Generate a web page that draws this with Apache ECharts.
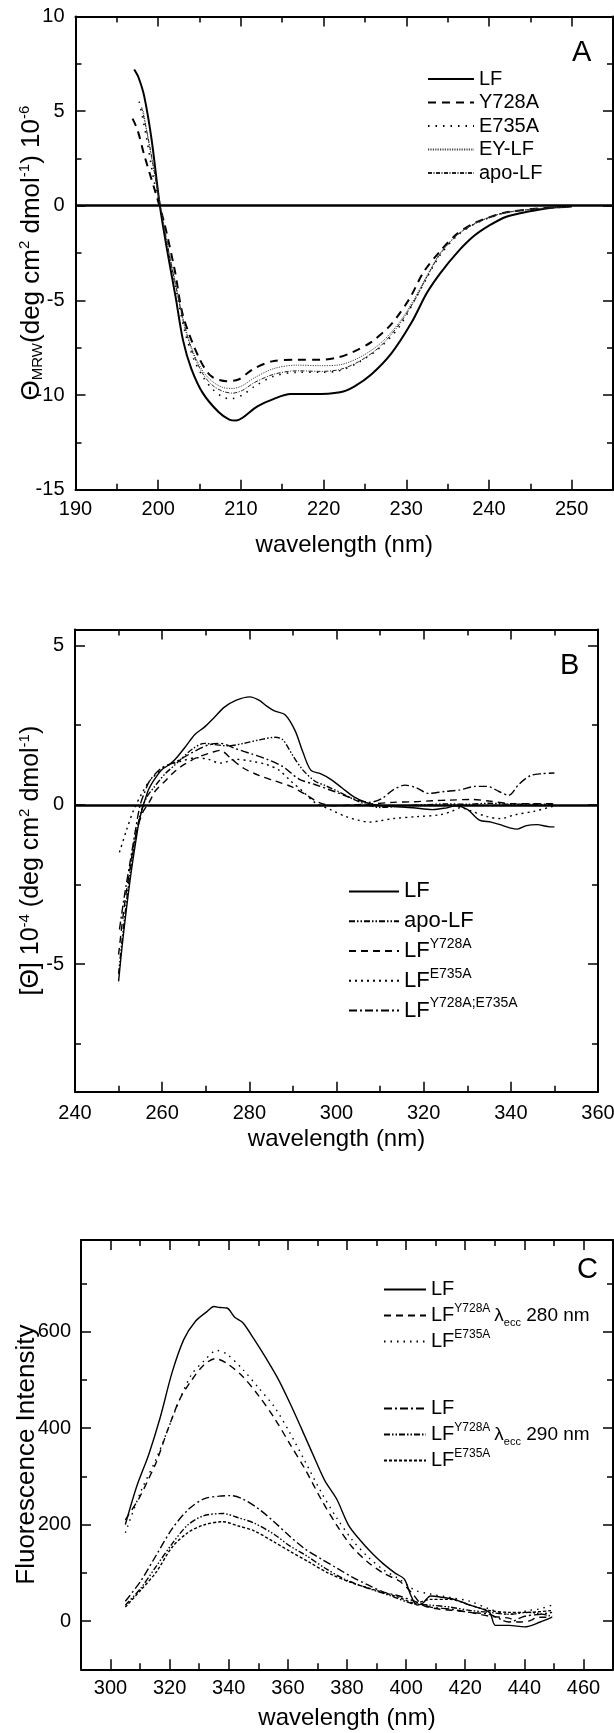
<!DOCTYPE html>
<html><head><meta charset="utf-8">
<script src="https://cdn.jsdelivr.net/npm/echarts@6/dist/echarts.min.js"></script>
<style>html,body{margin:0;padding:0;background:#fff}#c{width:614px;height:1733px}</style>
</head><body><div id="c"></div>
<script>
// ---------- Panel A : far-UV CD ----------
const A_xLabels = [190,200,210,220,230,240,250];
const A_xMinor  = [195,205,215,225,235,245];
const A_yLabels = [-15,-10,-5,0,5,10];
const A_yMinor  = [-12.5,-7.5,-2.5,2.5,7.5];
const A_LF = [[197.1,7.2],[197.6,6.8],[198.3,5.8],[199.2,3.5],[200.2,0],[201.1,-2.4],[202.1,-4.8],[203,-7.1],[204,-8.6],[205.4,-9.9],[207.3,-10.9],[208.6,-11.3],[209.4,-11.35],[210.2,-11.2],[212,-10.6],[214,-10.2],[216,-9.95],[218.7,-9.95],[222,-9.85],[223.7,-9.55],[225.8,-8.9],[228.2,-7.8],[230.6,-6.2],[232.5,-4.6],[234.1,-3.57],[236.1,-2.5],[238.1,-1.63],[240.1,-1.03],[242.1,-0.58],[244.6,-0.32],[247.8,-0.09],[250,-0.04]];
const A_Y728A = [[196.9,4.6],[197.5,4.0],[198.3,2.7],[199.7,0.66],[200.7,-0.85],[202,-3.4],[203,-5.8],[204.9,-8.0],[206.4,-9.0],[208.3,-9.27],[209.7,-9.18],[211.6,-8.6],[214,-8.2],[216.8,-8.14],[219.6,-8.14],[221.5,-8.04],[223.4,-7.76],[225.8,-7.19],[228.2,-6.25],[230.4,-4.9],[232.1,-3.5],[234.1,-2.4],[236.1,-1.5],[238.1,-0.95],[240.1,-0.6],[242.1,-0.35],[246.2,-0.14],[250,-0.05]];
const A_E735A = [[197.7,5.5],[198.5,3.8],[199.5,1.3],[200.2,0],[201.2,-2.3],[202.2,-4.5],[203.2,-6.6],[204.3,-8.1],[205.5,-9.1],[206.6,-9.7],[207.8,-10.1],[208.7,-10.2],[210.2,-10.0],[211.6,-9.56],[214,-9.0],[216.8,-8.8],[219.6,-8.8],[222,-8.7],[224.4,-8.23],[226.8,-7.5],[229.1,-6.43],[231,-5.0],[232.5,-3.8],[234.1,-2.6],[236.1,-1.6],[238.1,-1.0],[240.1,-0.62],[242.1,-0.36],[246.2,-0.15],[250,-0.05]];
const A_EY = [[198.2,5.0],[199,3.0],[200.2,0.2],[201.2,-2.2],[202.2,-4.3],[203.2,-6.3],[204.3,-7.8],[205.5,-8.8],[206.6,-9.3],[207.8,-9.6],[209,-9.65],[210.2,-9.5],[211.6,-9.1],[214,-8.6],[216.8,-8.42],[219.6,-8.45],[222,-8.4],[224.4,-8.0],[226.8,-7.3],[229.1,-6.2],[231,-4.9],[232.5,-3.7],[234.1,-2.5],[236.1,-1.55],[238.1,-0.98],[240.1,-0.6],[242.1,-0.35],[246.2,-0.14],[250,-0.05]];
const A_apo = [[198,5.2],[199,3.1],[200.2,0.1],[201.2,-2.3],[202.2,-4.4],[203.2,-6.4],[204.3,-7.9],[205.5,-8.95],[206.6,-9.5],[207.8,-9.8],[209,-9.9],[210.2,-9.75],[211.6,-9.35],[214,-8.9],[216.8,-8.72],[219.6,-8.75],[222,-8.65],[224.4,-8.2],[226.8,-7.45],[229.1,-6.3],[231,-5.0],[232.5,-3.75],[234.1,-2.55],[236.1,-1.58],[238.1,-1.0],[240.1,-0.61],[242.1,-0.36],[246.2,-0.15],[250,-0.05]];

// ---------- Panel B : near-UV CD ----------
const B_xLabels = [240,260,280,300,320,340,360];
const B_xMinor  = [250,270,290,310,330,350];
const B_yLabels = [-5,0,5];
const B_yMinor  = [-7.5,-2.5,2.5];
const B_LF = [[250,-5.54],[251,-4.2],[252.6,-2.4],[254,-1.1],[254.9,-0.4],[256.7,0.42],[258,0.75],[259.8,1.09],[261.5,1.25],[263,1.43],[265.2,1.8],[267.5,2.21],[269.7,2.44],[272,2.75],[274.2,3.06],[276.9,3.28],[280.1,3.39],[282.3,3.28],[284,3.1],[285.9,2.94],[288.2,2.83],[290.5,2.33],[292.3,1.65],[294.1,1.09],[296.3,0.98],[298.6,0.81],[301.3,0.53],[304,0.25],[306.7,0.08],[309.4,-0.01],[313,-0.05],[317.5,-0.09],[322,-0.15],[325,-0.1],[327.4,-0.03],[330.1,-0.15],[332.8,-0.48],[335.5,-0.54],[338.2,-0.65],[340,-0.73],[341.5,-0.76],[343.6,-0.65],[346,-0.62],[349,-0.69],[350,-0.69]];
const B_apo = [[250,-5.3],[251,-4.0],[252.6,-2.17],[254,-0.9],[255.3,-0.15],[256.5,0.25],[258,0.53],[260.7,0.98],[262.5,1.2],[264.3,1.43],[267,1.76],[269.7,1.93],[271.5,1.9],[275.1,1.85],[278.7,1.93],[282.3,2.04],[285.9,2.12],[287.7,2.04],[290,1.54],[292.3,1.09],[295,0.75],[297.5,0.6],[300.4,0.42],[303.5,0.2],[306.7,0.02],[310,-0.08],[315,-0.03],[320,0.0],[325,0.03],[330,0.02],[335,0.05],[340,0.02],[345,0.02],[350,0.02]];
const B_Y728A = [[250,-4.7],[251.2,-3.3],[252.6,-2.0],[254,-0.9],[255.5,-0.25],[257.1,0.1],[258.5,0.45],[260.7,0.75],[262.5,1.0],[264.3,1.2],[267.9,1.48],[271.5,1.65],[273.3,1.71],[276,1.43],[278.7,1.15],[282.3,0.92],[285.9,0.75],[289.5,0.58],[293.2,0.3],[295.9,0.08],[299.5,-0.03],[304,0.0],[308,0.03],[313,0.08],[318,0.1],[322,0.13],[326,0.15],[331,0.17],[335,0.12],[340,0.04],[345,0.04],[350,0.04]];
const B_E735A = [[250.2,-1.49],[251.8,-0.8],[253.5,-0.15],[255.3,0.35],[257.1,0.75],[258.9,1.0],[260.7,1.2],[264.3,1.37],[267.9,1.48],[270.6,1.43],[273.3,1.31],[276.9,1.43],[280.5,1.37],[284.1,1.26],[286.8,1.09],[289.5,0.75],[292.3,0.42],[295,0.08],[298.6,-0.15],[302.2,-0.37],[305,-0.48],[307.6,-0.54],[310,-0.5],[313,-0.43],[318.4,-0.37],[323.8,-0.31],[326.5,-0.2],[328.3,-0.09],[331,-0.2],[334.6,-0.37],[337.7,-0.43],[340.9,-0.31],[345.4,-0.2],[350,-0.03]];
const B_YE = [[250.2,-3.91],[251.4,-2.8],[252.6,-1.83],[253.8,-0.85],[254.9,-0.03],[256,0.4],[257.1,0.75],[259.8,1.15],[263.4,1.37],[267,1.65],[270.6,1.88],[273.3,1.93],[276.9,1.76],[280.5,1.6],[284.1,1.43],[287.7,1.2],[291.4,0.81],[295,0.64],[299.5,0.42],[304,0.19],[307.6,0.08],[310.3,0.19],[313,0.47],[315.7,0.62],[318.4,0.53],[321.1,0.36],[324.7,0.42],[328.3,0.47],[331.9,0.58],[334.6,0.58],[337.3,0.42],[339.5,0.3],[341.8,0.64],[344.5,0.92],[347.2,0.98],[350,1.0]];

// ---------- Panel C : fluorescence ----------
const C_xLabels = [300,320,340,360,380,400,420,440,460];
const C_xMinor  = [310,330,350,370,390,410,430,450];
const C_yLabels = [0,200,400,600];
const C_yMinor  = [100,300,500,700];
const C_LF280 = [[305,200],[308.9,280],[312.9,345],[316.8,422],[320.8,515],[324.8,584],[328.8,622],[332.7,642],[335,652],[337,650],[339.4,649],[342,630],[344.7,619],[348.6,584],[352.6,545],[356.6,503],[360.6,453],[364.6,399],[368.5,345],[372.5,291],[376.5,253],[380.5,199],[384.4,168],[388.4,141],[392.4,118],[396.4,99],[399.4,87],[401.7,52],[403.7,33],[405.6,37],[408.3,52],[412.3,49],[416.3,45],[421.6,33],[428.2,18],[430.2,-9],[434.8,-9],[440.1,-12],[445.4,-2],[449.4,8]];
const C_Y728A280 = [[305,210],[309.5,253],[312.5,290],[315.5,330],[319.5,399],[323.5,461],[327.4,499],[331.4,530],[335.4,544],[339.4,534],[344.7,507],[350,468],[355.3,422],[360.6,368],[365.9,314],[371.2,253],[376.5,199],[381.8,153],[387.1,122],[392.4,99],[397.7,83],[401.7,60],[405.6,33],[411,25],[416.3,22],[421.6,18],[428.2,10],[434.8,6],[438,-2],[441.4,0],[445,8],[449.4,8]];
const C_E735A280 = [[305,183],[310.2,268],[315.5,337],[319.5,399],[323.5,461],[327.4,511],[331.4,538],[336,561],[339.4,553],[344.7,522],[350,484],[355.3,445],[360.6,391],[365.9,330],[371.2,268],[376.5,214],[381.8,168],[387.1,133],[392.4,106],[397.7,87],[403,64],[408.3,56],[414.9,49],[421.6,41],[428.2,25],[434.8,14],[441.4,22],[445,25],[449.4,33]];
const C_LF290 = [[305,41],[310.2,83],[315.5,137],[320.8,191],[326.1,230],[331.4,253],[336.7,259],[340.7,260],[344.7,253],[350,233],[355.3,206],[360.6,176],[365.9,149],[371.2,129],[376.5,110],[381.8,91],[387.1,75],[392.4,60],[397.7,52],[403,41],[408.3,29],[414.9,25],[421.6,18],[428.2,14],[434.8,-2],[440.1,10],[445.4,14],[449.4,18]];
const C_Y728A290 = [[305,33],[310.2,68],[315.5,114],[320.8,160],[326.1,199],[331.4,218],[338,223],[343.3,214],[348.6,203],[355.3,180],[360.6,156],[365.9,137],[372.5,110],[379.1,87],[387.1,68],[395,52],[401.7,37],[408.3,33],[414.9,29],[421.6,22],[428.2,18],[434.8,14],[441.4,18],[449.4,10]];
const C_E735A290 = [[305,29],[310.2,64],[315.5,102],[320.8,153],[326.1,183],[331.4,199],[338,206],[343.3,197],[348.6,187],[355.3,164],[360.6,145],[367.2,122],[373.8,99],[381.8,79],[389.7,64],[397.7,49],[403,37],[408.3,45],[414.9,45],[421.6,33],[428.2,22],[434.8,18],[441.4,18],[449.4,22]];

const FONT = '"Liberation Sans", Arial, Helvetica, sans-serif';
const RICH = {
  sup:{fontSize:15, fontFamily:FONT, color:'#000', verticalAlign:'top', lineHeight:16},
  sub:{fontSize:15, fontFamily:FONT, color:'#000', verticalAlign:'bottom', lineHeight:16}
};
const RICH_L = {
  sup:{fontSize:14, fontFamily:FONT, color:'#000', verticalAlign:'top', lineHeight:15}
};
const RICH_C = {
  sup:{fontSize:12, fontFamily:FONT, color:'#000', verticalAlign:'top', lineHeight:13},
  lam:{fontSize:19, fontFamily:FONT, color:'#000', padding:[0,0,0,4]},
  sub2:{fontSize:11, fontFamily:FONT, color:'#000', verticalAlign:'bottom', lineHeight:12},
  nm:{fontSize:19, fontFamily:FONT, color:'#000'}
};
const LINE = {color:'#000', width:2};
const TICK = {color:'#000', width:1.5};

function xAxes(gi, min, max, major, minor, margin, name, nameGap){
  const c = {type:'value', gridIndex:gi, min:min, max:max, splitLine:{show:false}, axisPointer:{show:false}};
  return [
    Object.assign({}, c, {position:'bottom',
      axisLine:{show:true, onZero:false, lineStyle:LINE},
      axisTick:{show:true, inside:true, length:10, customValues:major, lineStyle:TICK},
      axisLabel:{show:true, customValues:major, margin:margin, color:'#000', fontSize:20, fontFamily:FONT},
      name:name, nameLocation:'middle', nameGap:nameGap, nameMoveOverlap:false,
      nameTextStyle:{fontSize:24, fontFamily:FONT, color:'#000', lineHeight:28}}),
    Object.assign({}, c, {position:'bottom', axisLine:{show:false, onZero:false},
      axisTick:{show:true, inside:true, length:6, customValues:minor, lineStyle:TICK}, axisLabel:{show:false}}),
    Object.assign({}, c, {position:'top', axisLine:{show:true, onZero:false, lineStyle:LINE},
      axisTick:{show:true, inside:true, length:10, customValues:major, lineStyle:TICK}, axisLabel:{show:false}}),
    Object.assign({}, c, {position:'top', axisLine:{show:false, onZero:false},
      axisTick:{show:true, inside:true, length:6, customValues:minor, lineStyle:TICK}, axisLabel:{show:false}})
  ];
}
function yAxes(gi, min, max, major, minor, margin, name, nameGap, nameSize){
  const c = {type:'value', gridIndex:gi, min:min, max:max, splitLine:{show:false}, axisPointer:{show:false}};
  return [
    Object.assign({}, c, {position:'left',
      axisLine:{show:true, onZero:false, lineStyle:LINE},
      axisTick:{show:true, inside:true, length:10, customValues:major, lineStyle:TICK},
      axisLabel:{show:true, customValues:major, margin:margin, color:'#000', fontSize:20, fontFamily:FONT},
      name:name, nameLocation:'middle', nameGap:nameGap, nameRotate:90, nameMoveOverlap:false,
      nameTextStyle:{fontSize:nameSize, fontFamily:FONT, color:'#000', lineHeight:28, rich:RICH}}),
    Object.assign({}, c, {position:'left', axisLine:{show:false, onZero:false},
      axisTick:{show:true, inside:true, length:6, customValues:minor, lineStyle:TICK}, axisLabel:{show:false}}),
    Object.assign({}, c, {position:'right', axisLine:{show:true, onZero:false, lineStyle:LINE},
      axisTick:{show:true, inside:true, length:10, customValues:major, lineStyle:TICK}, axisLabel:{show:false}}),
    Object.assign({}, c, {position:'right', axisLine:{show:false, onZero:false},
      axisTick:{show:true, inside:true, length:6, customValues:minor, lineStyle:TICK}, axisLabel:{show:false}})
  ];
}

const LEG = {
  'A_LF':'LF','A_Y728A':'Y728A','A_E735A':'E735A','A_EY':'EY-LF','A_apo':'apo-LF',
  'B_LF':'LF','B_apo':'apo-LF','B_Y728A':'LF{sup|Y728A}','B_E735A':'LF{sup|E735A}','B_YE':'LF{sup|Y728A;E735A}',
  'C_LF280':'LF','C_Y728A280':'LF{sup|Y728A}{lam|λ}{sub2|ecc}{nm| 280 nm}','C_E735A280':'LF{sup|E735A}',
  'C_LF290':'LF','C_Y728A290':'LF{sup|Y728A}{lam|λ}{sub2|ecc}{nm| 290 nm}','C_E735A290':'LF{sup|E735A}'
};

function line(name, p, data, type, width, color, extra){
  const s = {name:name, type:'line', xAxisIndex:4*p, yAxisIndex:4*p, data:data,
    symbol:'none', showSymbol:false, smooth:0.3, animation:false, silent:true,
    lineStyle:{color:color||'#000', width:width, type:type}, itemStyle:{color:color||'#000'}};
  return Object.assign(s, extra||{});
}
const zeroLine = {markLine:{silent:true, symbol:['none','none'], label:{show:false}, animation:false,
  lineStyle:{color:'#000', width:2.5, type:'solid'}, data:[{yAxis:0}]}};

function legendCfg(names, left, top, iw, fs, lh, gap, rich){
  return {data:names, orient:'vertical', left:left, top:top, itemWidth:iw, itemHeight:12, itemGap:gap,
    selectedMode:false, padding:0, formatter:function(n){return LEG[n];},
    itemStyle:{opacity:0, borderWidth:0},
    textStyle:{fontSize:fs, fontFamily:FONT, color:'#000', lineHeight:lh, rich:rich}};
}

const option = {
  backgroundColor:'#fff',
  animation:false,
  grid:[
    {left:75.5, top:16.4, width:537.5, height:473.3, containLabel:false, outerBoundsMode:'none'},
    {left:75, top:629.6, width:523, height:462.1, containLabel:false, outerBoundsMode:'none'},
    {left:81, top:1240, width:532, height:429.3, containLabel:false, outerBoundsMode:'none'}
  ],
  xAxis: [].concat(
    xAxes(0, 190, 255, A_xLabels, A_xMinor, 10, 'wavelength (nm)', 42),
    xAxes(1, 240, 360, B_xLabels, B_xMinor, 12, 'wavelength (nm)', 34),
    xAxes(2, 290, 470, C_xLabels, C_xMinor, 9, 'wavelength (nm)', 35)
  ),
  yAxis: [].concat(
    yAxes(0, -15, 10, A_yLabels, A_yMinor, 11, 'Θ{sub|MRW}(deg cm{sup|2} dmol{sup|-1}) 10{sup|-6}', 30, 26),
    yAxes(1, -9, 5.5, B_yLabels, B_yMinor, 11, '[Θ] 10{sup|-4} (deg cm{sup|2} dmol{sup|-1})', 30, 25),
    yAxes(2, -100, 790, C_yLabels, C_yMinor, 10, 'Fluorescence Intensity', 40, 26)
  ),
  legend:[
    legendCfg(['A_LF','A_Y728A','A_E735A','A_EY','A_apo'], 427, 68, 46, 20, 22, 1.5, RICH_L),
    legendCfg(['B_LF','B_apo','B_Y728A','B_E735A','B_YE'], 348, 877.4, 50, 22, 28, 1.8, RICH_L),
    legendCfg(['C_LF280','C_Y728A280','C_E735A280'], 383, 1276.4, 42, 20, 26, 0, RICH_C),
    legendCfg(['C_LF290','C_Y728A290','C_E735A290'], 383, 1395.4, 42, 20, 26, 0, RICH_C)
  ],
  graphic:[
    {type:'text', left:572, top:38, style:{text:'A', font:'29px '+FONT, fill:'#000'}},
    {type:'text', left:560, top:651, style:{text:'B', font:'29px '+FONT, fill:'#000'}},
    {type:'text', left:577, top:1255, style:{text:'C', font:'29px '+FONT, fill:'#000'}}
  ],
  series:[
    line('A_LF', 0, A_LF, 'solid', 2, '#000', zeroLine),
    line('A_Y728A', 0, A_Y728A, [8,6], 2),
    line('A_E735A', 0, A_E735A, [1.5,6], 1.6),
    line('A_EY', 0, A_EY, [1.2,1.2], 1, '#444'),
    line('A_apo', 0, A_apo, [4,1.5,1,1.5], 1, '#222'),

    line('B_LF', 1, B_LF, 'solid', 1.4, '#000', zeroLine),
    line('B_apo', 1, B_apo, [6,2,1.5,2,1.5,2], 1.4),
    line('B_Y728A', 1, B_Y728A, [7,5], 1.4),
    line('B_E735A', 1, B_E735A, [2,4], 1.4),
    line('B_YE', 1, B_YE, [8,3,2,3], 1.4),

    line('C_LF280', 2, C_LF280, 'solid', 1.4),
    line('C_Y728A280', 2, C_Y728A280, [7,5], 1.4),
    line('C_E735A280', 2, C_E735A280, [1.5,5], 1.4),
    line('C_LF290', 2, C_LF290, [8,3,2,3], 1.4),
    line('C_Y728A290', 2, C_Y728A290, [6,2,1.5,2,1.5,2], 1.4),
    line('C_E735A290', 2, C_E735A290, [3,2], 1.4)
  ]
};
const chart = echarts.init(document.getElementById('c'), null, {renderer:'canvas'});
chart.setOption(option);
</script>
</body></html>
